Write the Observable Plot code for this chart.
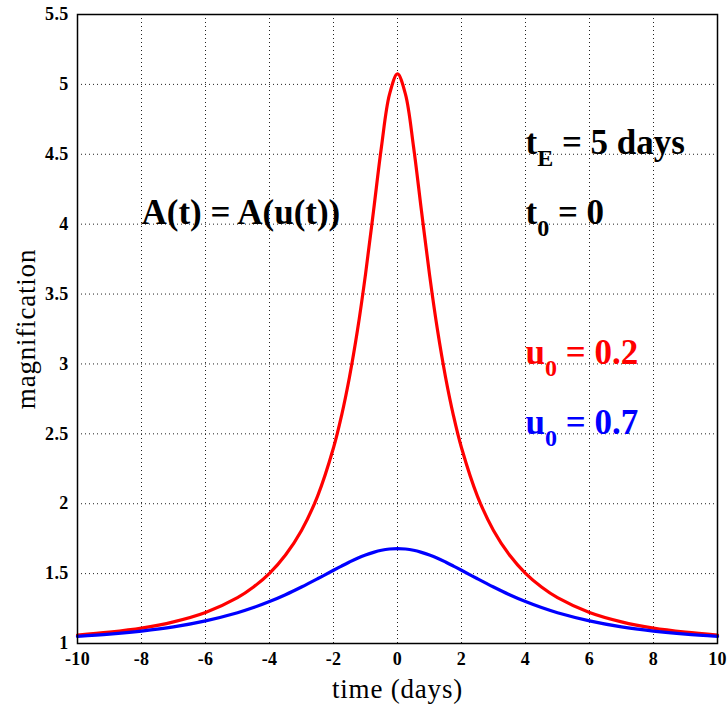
<!DOCTYPE html>
<html>
<head>
<meta charset="utf-8">
<script src="https://cdn.jsdelivr.net/npm/d3@7"></script>
<script src="https://cdn.jsdelivr.net/npm/@observablehq/plot@0.6"></script>
<style>
  body { margin: 0; background: #fff; }
  #chart svg { display: block; }
</style>
</head>
<body>
<div id="chart"></div>
<script>
// time (days)
const time = [-10,-9,-8,-7,-6,-5,-4.5,-4,-3.5,-3,-2.5,-2,-1.75,-1.5,-1.25,-1,-0.75,-0.5,-0.25,
  0,0.25,0.5,0.75,1,1.25,1.5,1.75,2,2.5,3,3.5,4,4.5,5,6,7,8,9,10];
// magnification, u0 = 0.2 (red)
const magU02 = [1.060,1.081,1.110,1.155,1.222,1.328,1.404,1.502,1.633,1.809,2.053,2.400,2.629,2.907,3.242,3.641,4.093,4.556,4.928,
  5.075,4.928,4.556,4.093,3.641,3.242,2.907,2.629,2.400,2.053,1.809,1.633,1.502,1.404,1.328,1.222,1.155,1.110,1.081,1.060];
// magnification, u0 = 0.7 (blue)
const magU07 = [1.051,1.067,1.089,1.119,1.162,1.220,1.257,1.300,1.349,1.404,1.463,1.524,1.554,1.583,1.610,1.633,1.652,1.667,1.676,
  1.679,1.676,1.667,1.652,1.633,1.610,1.583,1.554,1.524,1.463,1.404,1.349,1.300,1.257,1.220,1.162,1.119,1.089,1.067,1.051];

const xTicks = [-10,-8,-6,-4,-2,0,2,4,6,8,10];
const yTicks = [1,1.5,2,2.5,3,3.5,4,4.5,5,5.5];
const xLabel = "time (days)";
const yLabel = "magnification";

const seriesNames = ["u0 = 0.2", "u0 = 0.7"];
const seriesColors = ["#ff0000", "#0000ff"];
const seriesValues = [magU02, magU07];

// annotations: main text, subscript, rest, anchor in data coordinates, colour
const noteMain = ["A(t) = A(u(t))", "t", "t", "u", "u"];
const noteSub = ["", "E", "0", "0", "0"];
const noteRest = ["", " = 5 days", " = 0", " = 0.2", " = 0.7"];
const noteX = [-8, 4, 4, 4, 4];
const noteY = [4, 4.5, 4, 3, 2.5];
const noteColor = ["#000", "#000", "#000", "#ff0000", "#0000ff"];

const lineData = seriesNames.flatMap((name, s) =>
  time.map((t, i) => ({series: name, t, a: seriesValues[s][i]})));
const notes = noteMain.map((m, i) => ({
  full: m + noteSub[i] + noteRest[i], main: m, sub: noteSub[i], rest: noteRest[i],
  x: noteX[i], y: noteY[i], color: noteColor[i]
}));

const font = "'Liberation Serif', 'Times New Roman', Times, serif";

const plot = Plot.plot({
  width: 727,
  height: 708,
  marginLeft: 77,
  marginRight: 10,
  marginTop: 14,
  marginBottom: 65,
  style: {fontFamily: font, background: "#fff", color: "#000", overflow: "visible"},
  x: {domain: [-10, 10]},
  y: {domain: [1, 5.5]},
  color: {domain: seriesNames, range: seriesColors},
  marks: [
    Plot.gridX(xTicks, {stroke: "#222", strokeOpacity: 1, strokeWidth: 1, strokeDasharray: "1,3"}),
    Plot.gridY(yTicks, {stroke: "#222", strokeOpacity: 1, strokeWidth: 1, strokeDasharray: "1,3"}),
    Plot.line(lineData, {x: "t", y: "a", z: "series", stroke: "series", strokeWidth: 3.2, curve: "catmull-rom"}),
    Plot.text(notes, {x: "x", y: "y", text: "full", fill: "color", textAnchor: "start", lineAnchor: "bottom",
      fontSize: 35, fontWeight: "bold"}),
    Plot.frame({stroke: "#000", strokeWidth: 1.5}),
    Plot.axisX({ticks: xTicks, tickSize: 0, tickPadding: 9, tickFormat: d => String(d), label: null}),
    Plot.axisY({ticks: yTicks, tickSize: 0, tickPadding: 9, tickFormat: d => String(d), label: null}),
    Plot.axisX({ticks: [], label: xLabel, labelAnchor: "center", labelArrow: "none", labelOffset: 54}),
    Plot.axisY({ticks: [], label: yLabel, labelAnchor: "center", labelArrow: "none", labelOffset: 62})
  ]
});

const svg = d3.select(plot);
const noteNodes = new Set(svg.selectAll("g[aria-label='text'] text").nodes());
svg.selectAll("text").each(function() {
  if (noteNodes.has(this)) return;
  const el = d3.select(this);
  const content = this.textContent;
  el.style("font-family", font);
  if (content === xLabel || content === yLabel) {
    el.style("font-size", "27px").style("font-weight", "normal").style("letter-spacing", "0.8px");
  } else {
    el.style("font-size", "18px").style("font-weight", "bold").style("letter-spacing", "0.3px");
  }
});

// subscripts as real tspans
svg.selectAll("g[aria-label='text'] text").each(function(_, i) {
  const n = notes[i];
  if (!n || !n.sub) return;
  const t = d3.select(this);
  t.text(null);
  t.append("tspan").text(n.main);
  t.append("tspan").attr("dy", 12).attr("font-size", 24).text(n.sub);
  t.append("tspan").attr("dy", -12).text(n.rest);
});

document.getElementById("chart").appendChild(plot);
</script>
</body>
</html>
